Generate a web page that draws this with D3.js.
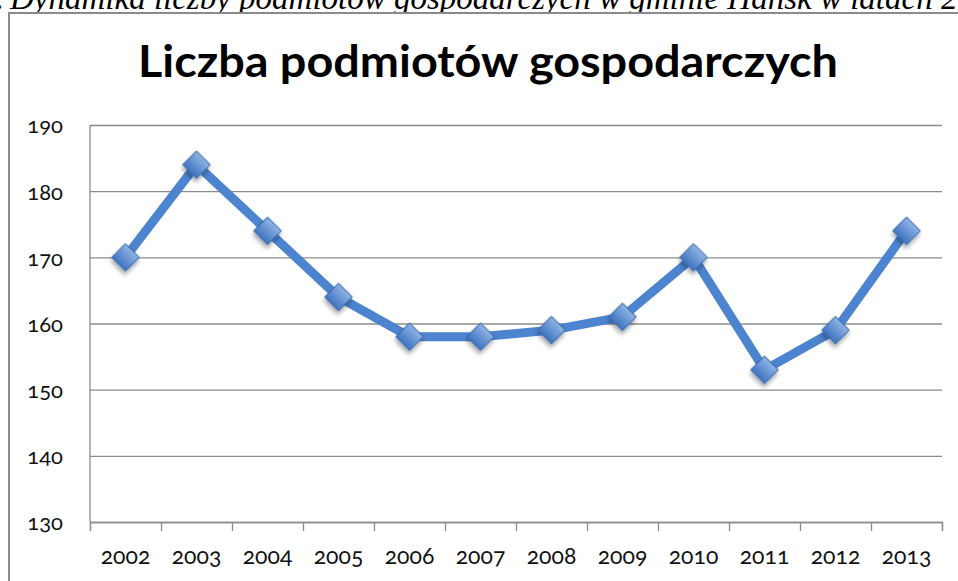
<!DOCTYPE html>
<html>
<head>
<meta charset="utf-8">
<style>
  html, body { margin: 0; padding: 0; background: #fff; }
  svg { display: block; }
  .tick text { font-family: Lato, "Open Sans", sans-serif; font-variant-numeric: oldstyle-nums; fill: #111; }
</style>
</head>
<body>
<svg id="chart" width="958" height="581"></svg>

<script src="https://d3js.org/d3.v7.min.js"></script>
<script>
    // data
    var years = ["2002", "2003", "2004", "2005", "2006", "2007", "2008", "2009", "2010", "2011", "2012", "2013"]
    var counts = [170, 184, 174, 164, 158, 158, 159, 161, 170, 153, 159, 174]
    var yTicks = [130, 140, 150, 160, 170, 180, 190]

    var title = "Liczba podmiotów gospodarczych"
    var captionPrefix = "Wykres 1."
    var caption = "Dynamika liczby podmiotów gospodarczych w gminie Hańsk w latach 2002–2013"

    var svg = d3.select("#chart")
    var plotLeft = 90, plotRight = 942, plotTop = 125, plotBottom = 522

    var x = d3.scaleBand().domain(years).range([plotLeft, plotRight])
    var xb = d3.scaleLinear().domain([0, years.length]).range([plotLeft, plotRight])
    var y = d3.scaleLinear().domain([130, 190]).range([plotBottom, plotTop])

    var defs = svg.append("defs")
    var grad = defs.append("linearGradient")
        .attr("id", "mk").attr("x1", 0).attr("y1", 0).attr("x2", 0).attr("y2", 1)
    grad.append("stop").attr("offset", "0%").attr("stop-color", "#8fb4e6")
    grad.append("stop").attr("offset", "100%").attr("stop-color", "#3f74c0")
    defs.append("filter").attr("id", "shadow")
        .attr("x", "-50%").attr("y", "-50%").attr("width", "200%").attr("height", "200%")
      .append("feDropShadow")
        .attr("dx", 2).attr("dy", 3).attr("stdDeviation", 2)
        .attr("flood-color", "#000").attr("flood-opacity", 0.35)

    // caption, cut off by the top edge
    svg.append("text")
        .attr("x", 4).attr("y", 9)
        .attr("text-anchor", "end")
        .style("font-family", "'Liberation Serif', 'Times New Roman', serif")
        .style("font-style", "italic")
        .style("font-size", "33px")
        .text(captionPrefix)
    svg.append("text")
        .attr("x", 10).attr("y", 9)
        .style("font-family", "'Liberation Serif', 'Times New Roman', serif")
        .style("font-style", "italic")
        .style("font-size", "33px")
        .text(caption)

    // chart frame
    svg.append("rect")
        .attr("x", 9).attr("y", 13)
        .attr("width", 1000).attr("height", 600)
        .attr("fill", "#fff")
        .attr("stroke", "#8a8a8a")
        .attr("stroke-width", 2)

    svg.append("text")
        .attr("x", 488).attr("y", 77)
        .attr("text-anchor", "middle")
        .attr("textLength", 700)
        .attr("lengthAdjust", "spacingAndGlyphs")
        .style("font-family", "Lato, 'Open Sans', sans-serif")
        .style("font-weight", "bold")
        .style("font-size", "44px")
        .style("fill", "#000")
        .text(title)

    // y grid + labels
    var yAxis = svg.append("g")
        .attr("transform", "translate(" + plotLeft + ",0)")
        .call(d3.axisLeft(y).tickValues(yTicks).tickSize(-(plotRight - plotLeft)).tickPadding(27))
    yAxis.select(".domain").remove()
    yAxis.selectAll(".tick line").attr("stroke", "#8c8c8c").attr("stroke-width", 1.3)
    yAxis.selectAll(".tick text").style("font-size", "22px").attr("dy", "0.36em")

    svg.append("line")
        .attr("x1", plotLeft).attr("x2", plotLeft)
        .attr("y1", plotTop).attr("y2", plotBottom)
        .attr("stroke", "#8c8c8c").attr("stroke-width", 1.3)

    // x axis ticks at category boundaries
    var xTickAxis = svg.append("g")
        .attr("transform", "translate(0," + plotBottom + ")")
        .call(d3.axisBottom(xb).tickValues(d3.range(years.length + 1)).tickSize(9).tickFormat(""))
    xTickAxis.select(".domain").attr("stroke", "#8c8c8c").attr("stroke-width", 1.3)
    xTickAxis.selectAll(".tick line").attr("stroke", "#8c8c8c").attr("stroke-width", 1.3)

    var xAxis = svg.append("g")
        .attr("transform", "translate(0," + plotBottom + ")")
        .call(d3.axisBottom(x).tickSize(0).tickPadding(26))
    xAxis.select(".domain").remove()
    xAxis.selectAll(".tick text").style("font-size", "23px")

    // series
    var pts = years.map(function(d, i) { return [x(d) + x.bandwidth() / 2, y(counts[i])] })

    svg.append("path")
        .datum(pts)
        .attr("fill", "none")
        .attr("stroke", "#4c84d0")
        .attr("stroke-width", 9)
        .attr("stroke-linejoin", "miter")
        .attr("d", d3.line())

    var sym = d3.symbol().type(d3.symbolSquare).size(19.5 * 19.5)
    svg.selectAll(".marker")
        .data(pts)
        .enter().append("path")
        .attr("class", "marker")
        .attr("transform", function(d) { return "translate(" + d[0] + "," + d[1] + ") rotate(45)" })
        .attr("d", sym)
        .attr("fill", "url(#mk)")
        .attr("stroke", "#3a68a8")
        .attr("stroke-width", 1)
        .attr("filter", "url(#shadow)")
</script>
</body>
</html>
